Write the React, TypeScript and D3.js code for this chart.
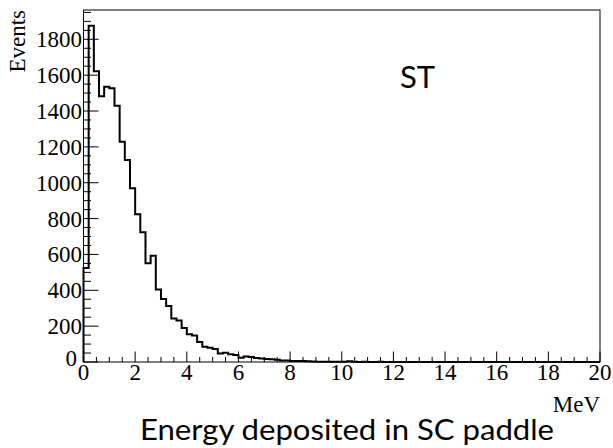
import React from "react";
import * as d3 from "d3";

const binWidth = 0.2;
const counts: number[] = [
  525, 1876, 1622, 1482, 1536, 1527, 1430, 1229, 1127, 969,
  824, 724, 551, 592, 404, 351, 313, 242, 232, 190,
  155, 148, 112, 85, 80, 72, 48, 52, 43, 39,
  24, 30, 28, 22, 19, 17, 15, 12, 8, 8,
  6, 5, 5, 4, 3, 2, 2, 1, 1, 1,
  1, 4, 1, 0, 1, 0, 0, 1, 0, 0,
  0, 0, 0, 0, 0, 0, 0, 0, 0, 0,
  0, 0, 0, 0, 0, 0, 0, 0, 0, 0,
  0, 0, 0, 0, 0, 0, 0, 0, 0, 0,
  0, 0, 0, 0, 0, 0, 0, 0, 0, 0,
];
const xMajorTicks = [0, 2, 4, 6, 8, 10, 12, 14, 16, 18, 20];
const yMajorTicks = [0, 200, 400, 600, 800, 1000, 1200, 1400, 1600, 1800];
const xTitle = "MeV";
const yTitle = "Events";
const annotation = "ST";
const caption = "Energy deposited in SC paddle";

const W = 613;
const H = 448;
const left = 83.5;
const right = 600;
const top = 10;
const bottom = 362;
const yMax = 1963.5;

export default function App() {
  const x = d3.scaleLinear().domain([0, 20]).range([left, right]);
  const y = d3.scaleLinear().domain([0, yMax]).range([bottom, top]);

  const pts: [number, number][] = [[0, 0]];
  counts.forEach((c, i) => {
    pts.push([i * binWidth, c]);
    pts.push([(i + 1) * binWidth, c]);
  });
  pts.push([counts.length * binWidth, 0]);
  const line = d3
    .line<[number, number]>()
    .x((d) => x(d[0]))
    .y((d) => y(d[1]));
  const path = line(pts) || "";

  const xMinor = d3.range(0, 20.001, 0.5).filter((v) => Math.abs(v / 2 - Math.round(v / 2)) > 1e-6);
  const yMinor = d3.range(0, yMax, 50).filter((v) => v % 200 !== 0);

  const serif = "'Liberation Serif', 'Times New Roman', serif";
  const sans = "Lato, 'Open Sans', sans-serif";

  return (
    <svg
      width={W}
      height={H}
      style={{ position: "fixed", left: 0, top: 0, background: "#fff" }}
    >
      <rect x={0} y={0} width={W} height={H} fill="#fff" />
      {/* frame */}
      <rect
        x={left}
        y={top}
        width={right - left}
        height={bottom - top}
        fill="none"
        stroke="#000"
        strokeWidth={1}
      />
      {/* x ticks */}
      {xMajorTicks.map((t) => (
        <line key={"xm" + t} x1={x(t)} x2={x(t)} y1={bottom} y2={bottom - 10.5} stroke="#000" strokeWidth={1} />
      ))}
      {xMinor.map((t) => (
        <line key={"xn" + t} x1={x(t)} x2={x(t)} y1={bottom} y2={bottom - 5} stroke="#000" strokeWidth={1} />
      ))}
      {/* y ticks */}
      {yMajorTicks.map((t) => (
        <line key={"ym" + t} x1={left} x2={left + 15} y1={y(t)} y2={y(t)} stroke="#000" strokeWidth={1} />
      ))}
      {yMinor.map((t) => (
        <line key={"yn" + t} x1={left} x2={left + 7.5} y1={y(t)} y2={y(t)} stroke="#000" strokeWidth={1} />
      ))}
      {/* histogram */}
      <path d={path} fill="none" stroke="#000" strokeWidth={2} />
      {/* x labels */}
      {xMajorTicks.map((t) => (
        <text key={"xl" + t} x={x(t)} y={380} textAnchor="middle" fontFamily={serif} fontSize={23} fill="#000">
          {t}
        </text>
      ))}
      {/* y labels */}
      {yMajorTicks.map((t) => (
        <text
          key={"yl" + t}
          x={t === 0 ? 77 : 82}
          y={t === 0 ? y(t) + 4 : y(t) + 8}
          textAnchor="end"
          fontFamily={serif}
          fontSize={23}
          fill="#000"
        >
          {t}
        </text>
      ))}
      {/* axis titles */}
      <text x={600} y={412} textAnchor="end" fontFamily={serif} fontSize={23} fill="#000">
        {xTitle}
      </text>
      <text
        transform={`translate(25, ${top}) rotate(-90)`}
        textAnchor="end"
        fontFamily={serif}
        fontSize={23}
        fill="#000"
      >
        {yTitle}
      </text>
      {/* annotation */}
      <text x={400} y={87.7} fontFamily={sans} fontSize={31} fill="#000">
        {annotation}
      </text>
      {/* caption */}
      <text
        x={140}
        y={440}
        fontFamily={sans}
        fontSize={29}
        fill="#000"
        textLength={414}
        lengthAdjust="spacingAndGlyphs"
      >
        {caption}
      </text>
    </svg>
  );
}
